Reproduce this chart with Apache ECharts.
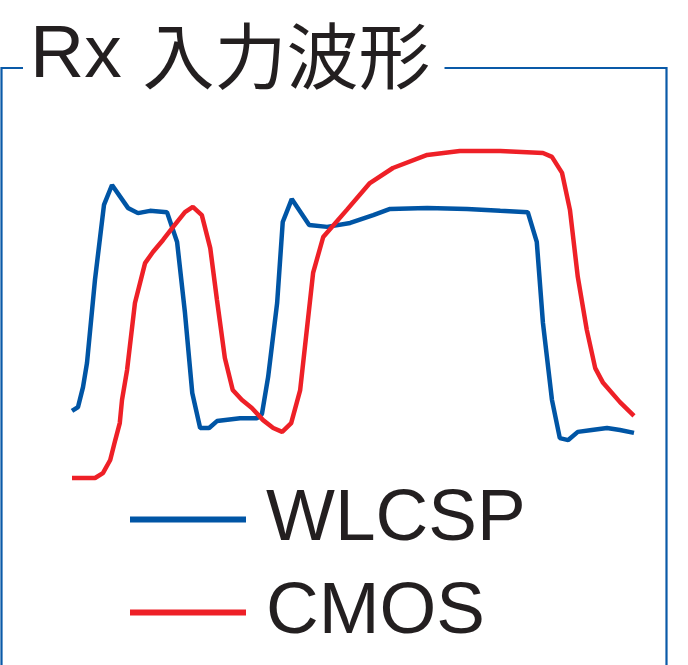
<!DOCTYPE html>
<html>
<head>
<meta charset="utf-8">
<script src="https://cdn.jsdelivr.net/npm/echarts@6/dist/echarts.min.js"></script>
<style>html,body{margin:0;padding:0;background:#fff}#c{width:688px;height:665px}</style>
</head>
<body>
<div id="c"></div>
<script>
// Time (normalized 0..100) and amplitude (normalized, CMOS low=0 high=100)
const wlcspT = [0,1.07,1.96,2.67,4.09,5.69,7.12,9.96,11.74,13.88,16.9,18.7,20.1,21.4,22.8,24.4,25.8,29.9,32.9,33.8,34.9,36.5,37.5,39.1,42.2,45.4,49.5,53.6,56.6,63.2,70.3,76.2,81.1,82.7,83.8,85.4,86.8,88.3,90.0,92.5,95.2,97.5,100];
const wlcspV = [20.5,21.7,27.8,35.2,60.6,83.5,89.6,82.6,81.0,81.7,81.3,72.2,50.5,26.0,15.3,15.3,17.4,18.3,18.3,19.6,30.9,53.5,78.3,85.3,77.4,76.8,78.0,80.4,82.3,82.6,82.3,81.7,81.3,72.2,47.4,23.9,12.2,11.6,14.1,14.7,15.3,14.7,13.8];
const cmosT = [0,4.1,5.5,6.8,7.7,8.5,8.9,9.8,11.2,13.0,14.4,16.2,18.0,20.1,21.5,23.1,24.6,25.8,27.2,28.6,30.2,32.0,34.0,35.8,37.4,39.0,40.6,42.9,44.7,48.9,53.0,57.1,63.2,69.0,76.2,83.8,85.4,87.2,88.6,90.0,91.6,93.1,94.5,97.5,100];
const cmosV = [0,0,1.5,5.5,11.6,16.8,23.9,33.0,53.5,65.7,69.1,72.8,76.8,81.3,82.9,80.4,70.3,54.4,36.7,26.9,23.9,21.4,17.7,15.3,14.1,16.8,26.9,62.7,73.7,82.0,90.2,94.8,98.8,100,100,99.4,98.2,93.3,82.0,61.5,45.3,33.6,29.1,23.2,19.0];
const seriesNames = ['WLCSP','CMOS'];
const titleParts = ['Rx ', '入力波形'];

const zip = (a, b) => a.map((t, i) => [t, b[i]]);
const BLUE = '#0055a5', RED = '#ee2027';

const chart = echarts.init(document.getElementById('c'));
chart.setOption({
  animation: false,
  backgroundColor: '#fff',
  graphic: [{
    type: 'rect', z: 0,
    shape: { x: 1.5, y: 68, width: 665, height: 700 },
    style: { fill: 'none', stroke: '#0a5aa8', lineWidth: 2.2 }
  }],
  title: {
    text: '{a|' + titleParts[0] + '}{b|' + titleParts[1] + '}',
    left: 23, top: 16, z: 10,
    padding: [0, 14, 0, 7],
    backgroundColor: '#fff',
    textStyle: {
      fontWeight: 'normal',
      rich: {
        a: { fontFamily: 'Liberation Sans', fontSize: 75, fontWeight: 'normal', color: '#231f20', lineHeight: 80 },
        b: { fontFamily: 'Noto Sans CJK JP', fontSize: 72, fontWeight: 'normal', color: '#231f20', lineHeight: 80 }
      }
    }
  },
  legend: {
    orient: 'vertical', left: 130, top: 483, padding: 0,
    itemWidth: 116, itemHeight: 6, itemGap: 20, icon: 'rect',
    data: seriesNames,
    textStyle: { fontFamily: 'Liberation Sans', fontSize: 73, lineHeight: 73, color: '#231f20', padding: [0, 0, 0, 15] }
  },
  grid: { left: 72, right: 54, top: 151, bottom: 187 },
  xAxis: { type: 'value', min: 0, max: 100, show: false },
  yAxis: { type: 'value', min: 0, max: 100, show: false },
  series: [
    { name: seriesNames[0], type: 'line', data: zip(wlcspT, wlcspV), showSymbol: false, clip: false,
      itemStyle: { color: BLUE }, lineStyle: { color: BLUE, width: 4.5 } },
    { name: seriesNames[1], type: 'line', data: zip(cmosT, cmosV), showSymbol: false, clip: false,
      itemStyle: { color: RED }, lineStyle: { color: RED, width: 4.5 } }
  ]
});
</script>
</body>
</html>
